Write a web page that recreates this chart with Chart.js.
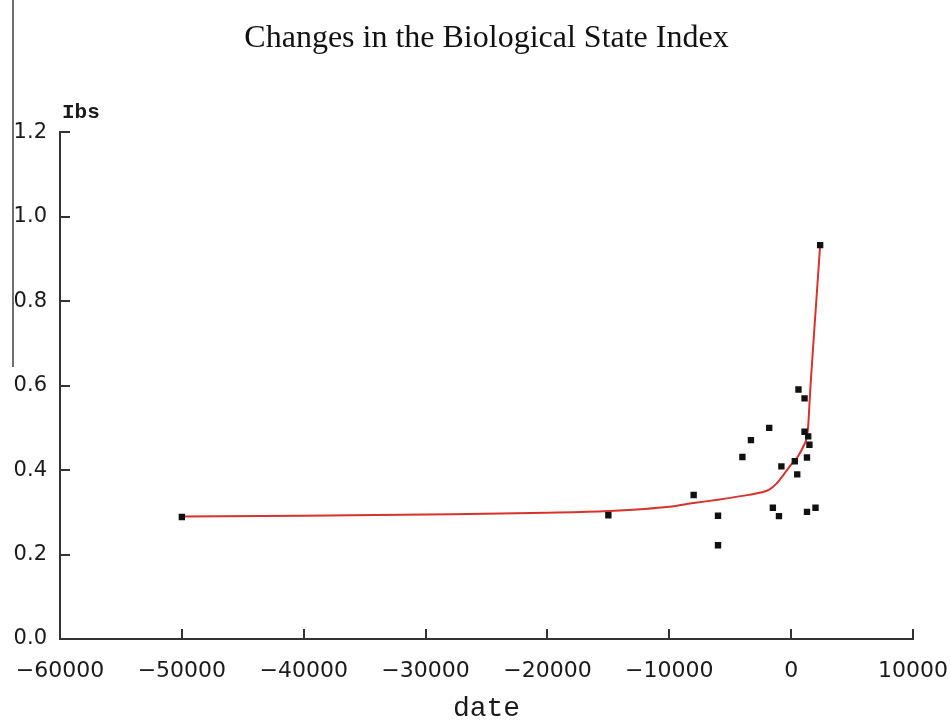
<!DOCTYPE html>
<html lang="en">
<head>
    <meta charset="UTF-8">
    <title>Changes in the Biological State Index</title>
    <style>
        body { margin: 0; background: #fff; }
        #wrap { position: relative; width: 951px; height: 725px; }
        #edge { position: absolute; left: 12px; top: 0; width: 2px; height: 367px; background: #6e6e6e; }
    </style>
</head>
<body>
<div id="wrap">
    <div id="edge"></div>
    <canvas id="myChart" width="951" height="725"></canvas>
</div>
<script src="https://cdn.jsdelivr.net/npm/chart.js"></script>
<script>
    // observed points (date, Ibs)
    const obsDate = [-50000, -15000, -8000, -6000, -6000, -4000, -3300, -1800, -1500, -1000, -800,
                     300, 500, 600, 1100, 1100, 1400, 1500, 1300, 1300, 2000, 2380]
    const obsIbs = [0.289, 0.293, 0.341, 0.292, 0.222, 0.431, 0.471, 0.500, 0.311, 0.291, 0.409,
                    0.421, 0.390, 0.591, 0.570, 0.491, 0.480, 0.460, 0.430, 0.301, 0.311, 0.933]

    // fitted curve
    const fitDate = [-50000, -40000, -30000, -20000, -15000, -10000, -8000, -6000, -4000, -2500, -1800,
                     -1200, -600, 0, 500, 1000, 1300, 1400, 1500, 1600, 2000, 2380]
    const fitIbs = [0.290, 0.292, 0.295, 0.299, 0.303, 0.313, 0.322, 0.330, 0.339, 0.347, 0.354,
                    0.368, 0.390, 0.413, 0.430, 0.456, 0.480, 0.505, 0.555, 0.605, 0.774, 0.933]

    const xTicks = [-60000, -50000, -40000, -30000, -20000, -10000, 0, 10000]
    const yTicks = [0.0, 0.2, 0.4, 0.6, 0.8, 1.0, 1.2]

    const toXY = (xs, ys) => xs.map((x, i) => ({ x: x, y: ys[i] }))

    // inward tick marks + the Ibs label on top of the y axis
    const axisDecor = {
        id: 'axisDecor',
        afterDatasetsDraw(chart) {
            const ctx = chart.ctx
            const xs = chart.scales.x, ys = chart.scales.y
            const area = chart.chartArea
            ctx.save()
            ctx.strokeStyle = '#333'
            ctx.lineWidth = 2
            xTicks.forEach(v => {
                if (v === xTicks[0]) return
                const px = Math.round(xs.getPixelForValue(v))
                ctx.beginPath()
                ctx.moveTo(px, area.bottom)
                ctx.lineTo(px, area.bottom - 10)
                ctx.stroke()
            })
            yTicks.forEach(v => {
                if (v === 0) return
                const py = Math.round(ys.getPixelForValue(v))
                ctx.beginPath()
                ctx.moveTo(area.left, py)
                ctx.lineTo(area.left + 10, py)
                ctx.stroke()
            })
            ctx.fillStyle = '#1a1a1a'
            ctx.font = 'bold 21px "Liberation Mono"'
            ctx.textBaseline = 'alphabetic'
            ctx.fillText('Ibs', area.left + 2, area.top - 14)
            ctx.restore()
        }
    }

    function creatChart() {
        const ctx = document.getElementById('myChart')
        new Chart(ctx, {
            type: 'scatter',
            data: {
                datasets: [{
                    label: 'observed',
                    data: toXY(obsDate, obsIbs),
                    pointStyle: 'rect',
                    pointRadius: 4.5,
                    backgroundColor: '#111',
                    borderColor: '#111',
                    borderWidth: 0
                }, {
                    label: 'fit',
                    type: 'line',
                    data: toXY(fitDate, fitIbs),
                    borderColor: '#d8322c',
                    borderWidth: 2,
                    pointRadius: 0,
                    fill: false,
                    cubicInterpolationMode: 'monotone'
                }]
            },
            options: {
                responsive: false,
                animation: false,
                devicePixelRatio: 1,
                layout: { padding: { top: 0, right: 38, bottom: 0, left: 0 } },
                plugins: {
                    legend: { display: false },
                    tooltip: { enabled: false },
                    title: {
                        display: true,
                        fullSize: false,
                        text: 'Changes in the Biological State Index',
                        color: '#111',
                        font: { family: '"Liberation Serif"', size: 32, weight: 'normal' },
                        padding: { top: 19, bottom: 75 }
                    }
                },
                scales: {
                    x: {
                        type: 'linear',
                        min: -60000,
                        max: 10000,
                        afterFit: s => { s.height = 86; s.paddingLeft = 0; s.paddingRight = 0 },
                        afterBuildTicks: s => { s.ticks = xTicks.map(v => ({ value: v })) },
                        grid: { display: true, drawOnChartArea: false, drawTicks: false },
                        border: { display: true, color: '#333', width: 2 },
                        ticks: {
                            padding: 19,
                            color: '#1a1a1a',
                            maxRotation: 0,
                            autoSkip: false,
                            font: { family: '"DejaVu Sans"', size: 22 },
                            callback: v => v < 0 ? '\u2212' + Math.abs(v) : String(v)
                        },
                        title: {
                            display: true,
                            text: 'date',
                            color: '#1a1a1a',
                            font: { family: '"Liberation Mono"', size: 28 },
                            padding: { top: 0, bottom: 0 }
                        }
                    },
                    y: {
                        min: 0,
                        max: 1.2,
                        afterFit: s => { s.width = 60 },
                        afterBuildTicks: s => { s.ticks = yTicks.map(v => ({ value: v })) },
                        grid: { display: true, drawOnChartArea: false, drawTicks: false },
                        border: { display: true, color: '#333', width: 2 },
                        ticks: {
                            padding: 13,
                            color: '#1a1a1a',
                            font: { family: '"DejaVu Sans"', size: 21 },
                            callback: v => v.toFixed(1)
                        }
                    }
                }
            },
            plugins: [axisDecor]
        })
    }
    creatChart()
</script>
</body>
</html>
